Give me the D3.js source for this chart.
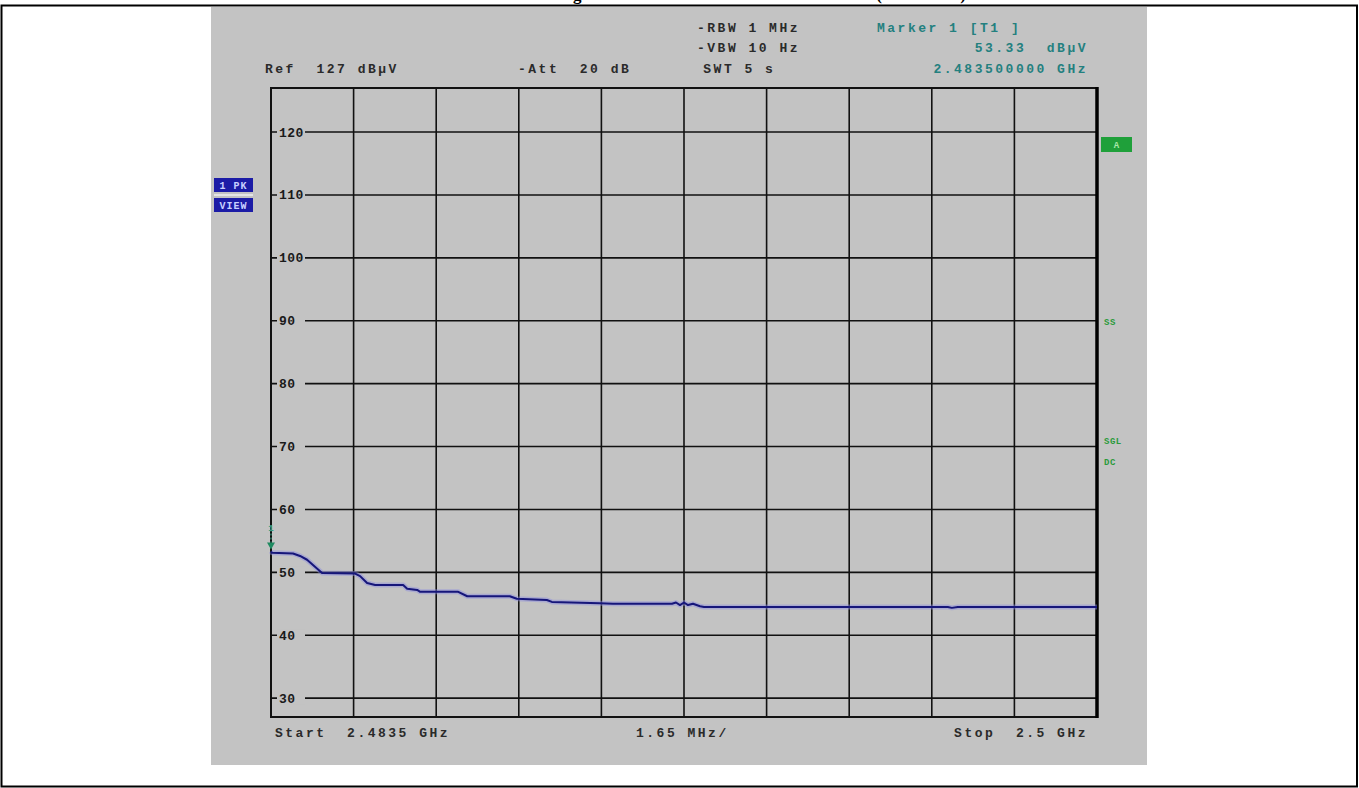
<!DOCTYPE html>
<html>
<head>
<meta charset="utf-8">
<script src="https://cdn.jsdelivr.net/npm/d3@7"></script>
<style>
  html, body { margin: 0; padding: 0; background: #ffffff; }
  svg { display: block; }
  .mono { font-family: "Liberation Mono", "DejaVu Sans Mono", monospace; font-weight: bold; }
</style>
</head>
<body>
<svg id="chart" width="1359" height="788"></svg>
<script>
// Sweep settings
const startMHz = 2483.5;
const stopMHz = 2500.0;
const spanPerDivMHz = 1.65;
const refLevel = 127;      // dBµV, top of screen
const dbPerDiv = 10;
const levelTicks = [120, 110, 100, 90, 80, 70, 60, 50, 40, 30];

// Peak trace (frequency in MHz, level in dBµV)
const traceFreq = [2483.50, 2483.52, 2483.94, 2484.08, 2484.22, 2484.52, 2485.18, 2485.28,
  2485.42, 2485.58, 2486.14, 2486.22, 2486.42, 2486.48, 2487.24, 2487.42, 2488.27, 2488.41,
  2489.01, 2489.11, 2490.07, 2490.33, 2491.51, 2491.59, 2491.67, 2491.75, 2491.83, 2491.93,
  2492.07, 2492.15, 2497.02, 2497.10, 2497.22, 2500.00];
const traceLevel = [53.33, 53.1, 53.0, 52.6, 52.0, 49.9, 49.8, 49.4,
  48.3, 48.0, 48.0, 47.4, 47.2, 46.9, 46.9, 46.2, 46.2, 45.8,
  45.6, 45.3, 45.1, 45.0, 45.0, 45.2, 44.8, 45.2, 44.8, 45.0,
  44.6, 44.5, 44.5, 44.35, 44.5, 44.5];

// Marker readout
const markerFreqMHz = 2483.5;
const markerLevel = 53.33;

// Header / footer labels
const headerLeft = [
  { text: "Ref  127 dBµV", x: 265, y: 68 },
  { text: "-Att  20 dB", x: 518, y: 68 }
];
const headerMid = [
  { text: "-RBW 1 MHz", x: 697, y: 27 },
  { text: "-VBW 10 Hz", x: 697, y: 47 },
  { text: " SWT 5 s", x: 693, y: 68 }
];
const markerLines = [
  { text: "Marker 1 [T1 ]", x: 877, y: 27, anchor: "start" },
  { text: "53.33  dBµV", x: 1088, y: 47, anchor: "end" },
  { text: "2.483500000 GHz", x: 1088, y: 68, anchor: "end" }
];
const footer = [
  { text: "Start  2.4835 GHz", x: 275, anchor: "start" },
  { text: "1.65 MHz/", x: 636, anchor: "start" },
  { text: "Stop  2.5 GHz", x: 1088, anchor: "end" }
];

const svg = d3.select("#chart");
const W = 1359, H = 788;

// page frame and clipped heading above it
svg.append("text")
  .attr("x", 556).attr("y", 0)
  .attr("font-family", "Liberation Serif, serif")
  .attr("font-weight", "bold")
  .attr("font-size", 17)
  .attr("fill", "#000")
  .text("Right Band Limit Emissions at 2483.5 MHz (Horizontal)");
svg.append("rect").attr("x", 1.5).attr("y", 5.5).attr("width", W - 3.5).attr("height", H - 7)
  .attr("fill", "none").attr("stroke", "#000").attr("stroke-width", 2);

// instrument screen background
svg.append("rect").attr("x", 211).attr("y", 7).attr("width", 936).attr("height", 758)
  .attr("fill", "#c3c3c3");

const plot = { left: 271, right: 1097, top: 88, bottom: 717 };
const x = d3.scaleLinear().domain([startMHz, stopMHz]).range([plot.left, plot.right]);
const y = d3.scaleLinear().domain([refLevel - 10 * dbPerDiv, refLevel]).range([plot.bottom, plot.top]);

const g = svg.append("g");

// vertical graticule
const xDivs = d3.range(0, 11).map(i => startMHz + i * spanPerDivMHz);
g.selectAll("line.vx").data(xDivs).join("line")
  .attr("x1", d => x(d)).attr("x2", d => x(d))
  .attr("y1", plot.top).attr("y2", plot.bottom)
  .attr("stroke", "#111").attr("stroke-width", 1.6);

// horizontal graticule
g.selectAll("line.hy").data(levelTicks).join("line")
  .attr("x1", plot.left).attr("x2", plot.right)
  .attr("y1", d => y(d)).attr("y2", d => y(d))
  .attr("stroke", "#111").attr("stroke-width", 1.6);

// level labels sitting on the grid lines
const lab = g.selectAll("g.lab").data(levelTicks).join("g")
  .attr("transform", d => `translate(0,${y(d)})`);
lab.append("rect").attr("x", 277).attr("y", -6).attr("width", 28).attr("height", 12).attr("fill", "#c3c3c3");
lab.append("text").attr("class", "mono")
  .attr("x", 279).attr("y", 4.5)
  .attr("font-size", 13).attr("letter-spacing", 0.5)
  .attr("fill", "#1a1a1a")
  .text(d => d);

// frame
g.append("rect").attr("x", plot.left).attr("y", plot.top)
  .attr("width", plot.right - plot.left).attr("height", plot.bottom - plot.top)
  .attr("fill", "none").attr("stroke", "#111").attr("stroke-width", 2);
g.append("line").attr("x1", plot.right).attr("x2", plot.right)
  .attr("y1", plot.top - 1).attr("y2", plot.bottom + 1)
  .attr("stroke", "#000").attr("stroke-width", 3.5);

// trace
const pts = traceFreq.map((f, i) => [f, traceLevel[i]]);
const line = d3.line().x(d => x(d[0])).y(d => y(d[1]));
g.append("path").attr("d", line(pts))
  .attr("fill", "none").attr("stroke", "#8a8ae0").attr("stroke-opacity", 0.45)
  .attr("stroke-width", 5).attr("stroke-linejoin", "round");
g.append("path").attr("d", line(pts))
  .attr("fill", "none").attr("stroke", "#16167a")
  .attr("stroke-width", 2).attr("stroke-linejoin", "round");

// marker 1
const mx = x(markerFreqMHz), my = y(markerLevel);
g.append("line").attr("x1", mx).attr("x2", mx).attr("y1", my - 26).attr("y2", my - 9)
  .attr("stroke", "#3a9a80").attr("stroke-width", 1.2).attr("stroke-dasharray", "2,2");
g.append("path")
  .attr("d", `M${mx - 4},${my - 9} L${mx + 4},${my - 9} L${mx},${my - 2} Z`)
  .attr("fill", "#1f8a60");
g.append("text").attr("class", "mono").attr("x", mx).attr("y", my - 20)
  .attr("text-anchor", "middle").attr("font-size", 9).attr("fill", "#3a9a80").text("1");

// header text
const hdr = svg.append("g").attr("class", "mono").attr("font-size", 13).attr("letter-spacing", 2.5);
hdr.selectAll("text.l").data(headerLeft.concat(headerMid)).join("text")
  .attr("x", d => d.x).attr("y", d => d.y + 4.5)
  .attr("fill", "#2a2a2a").attr("xml:space", "preserve")
  .style("white-space", "pre")
  .text(d => d.text);
hdr.selectAll("text.m").data(markerLines).join("text")
  .attr("x", d => d.x).attr("y", d => d.y + 4.5)
  .attr("text-anchor", d => d.anchor)
  .attr("fill", "#23807f")
  .style("white-space", "pre")
  .text(d => d.text);

// footer text
svg.append("g").attr("class", "mono").attr("font-size", 13).attr("letter-spacing", 2.5)
  .selectAll("text").data(footer).join("text")
  .attr("x", d => d.x).attr("y", 737)
  .attr("text-anchor", d => d.anchor)
  .attr("fill", "#2a2a2a")
  .style("white-space", "pre")
  .text(d => d.text);

// trace / view indicators on the left
const ind = svg.append("g").attr("class", "mono").attr("font-size", 10);
[["1 PK", 178], ["VIEW", 198]].forEach(([t, yy]) => {
  ind.append("rect").attr("x", 214).attr("y", yy).attr("width", 39).attr("height", 14).attr("fill", "#1c1ca6");
  ind.append("text").attr("x", 233.5).attr("y", yy + 10.5).attr("text-anchor", "middle")
    .attr("fill", "#c8d0ff").attr("letter-spacing", 1).style("white-space", "pre").text(t);
});
ind.append("line").attr("x1", 214).attr("x2", 253).attr("y1", 195).attr("y2", 195)
  .attr("stroke", "#f0f0f0").attr("stroke-width", 1.5);

// status flags on the right
const st = svg.append("g").attr("class", "mono").attr("font-size", 9);
st.append("rect").attr("x", 1101).attr("y", 137).attr("width", 31).attr("height", 15).attr("fill", "#1fa03a");
st.append("text").attr("x", 1116.5).attr("y", 148).attr("text-anchor", "middle").attr("fill", "#a8e8a8").text("A");
[["SS", 325], ["SGL", 444], ["DC", 465]].forEach(([t, yy]) => {
  st.append("text").attr("x", 1104).attr("y", yy).attr("fill", "#2a9a3a").attr("letter-spacing", 0.5).text(t);
});
</script>
</body>
</html>
